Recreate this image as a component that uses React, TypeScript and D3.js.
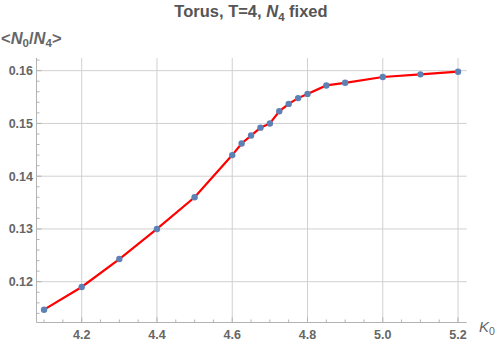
import React, { useEffect, useRef } from 'react';
import * as d3 from 'd3';

// K0 values and measured <N0/N4>
const k0 = [4.1, 4.2, 4.3, 4.4, 4.5, 4.6, 4.625, 4.65, 4.675, 4.7, 4.725, 4.75, 4.775, 4.8, 4.85, 4.9, 5.0, 5.1, 5.2];
const ratio = [0.1147, 0.119, 0.1243, 0.13, 0.136, 0.144, 0.1462, 0.1477, 0.1492, 0.15, 0.1523, 0.1537, 0.1548, 0.1556, 0.1572, 0.1577, 0.1588, 0.1593, 0.1598];

const xTicks = [4.2, 4.4, 4.6, 4.8, 5.0, 5.2];
const yTicks = [0.12, 0.13, 0.14, 0.15, 0.16];

const App: React.FC = () => {
  const svgRef = useRef<SVGSVGElement>(null);

  useEffect(() => {
    if (!svgRef.current) return;
    const svg = d3.select(svgRef.current);
    svg.selectAll('*').remove();

    const W = 500, H = 347;
    const left = 36.5, right = 466.7, top = 58, bottom = 322.5;
    const textColor = '#666';
    const font = '"Liberation Sans", Arial, sans-serif';

    svg.attr('width', W).attr('height', H);

    const x = d3.scaleLinear().domain([4.0799, 5.223]).range([left, right]);
    const y = d3.scaleLinear().domain([0.11227, 0.1624]).range([bottom, top]);

    // grid
    const grid = svg.append('g').attr('stroke', '#d0d0d0').attr('stroke-width', 1);
    xTicks.forEach(t => {
      grid.append('line').attr('x1', x(t)).attr('x2', x(t)).attr('y1', top).attr('y2', bottom);
    });
    yTicks.forEach(t => {
      grid.append('line').attr('x1', left).attr('x2', right).attr('y1', y(t)).attr('y2', y(t));
    });

    // axes
    const ax = svg.append('g').attr('stroke', '#b3b3b3').attr('stroke-width', 1);
    ax.append('line').attr('x1', left).attr('x2', right).attr('y1', bottom).attr('y2', bottom);
    ax.append('line').attr('x1', left).attr('x2', left).attr('y1', top).attr('y2', bottom);

    // minor ticks (inward)
    d3.range(0, 23).map(i => 4.1 + i * 0.05).forEach(t => {
      const major = xTicks.some(m => Math.abs(m - t) < 1e-6);
      ax.append('line').attr('x1', x(t)).attr('x2', x(t)).attr('y1', bottom).attr('y2', bottom - (major ? 5 : 3));
    });
    d3.range(0, 25).map(i => 0.114 + i * 0.002).forEach(t => {
      const major = yTicks.some(m => Math.abs(m - t) < 1e-6);
      ax.append('line').attr('x1', left).attr('x2', left + (major ? 5 : 3)).attr('y1', y(t)).attr('y2', y(t));
    });

    // tick labels
    svg.append('g')
      .selectAll('text')
      .data(xTicks)
      .join('text')
      .attr('x', d => x(d))
      .attr('y', 339)
      .attr('text-anchor', 'middle')
      .attr('font-family', font)
      .attr('font-weight', 'bold')
      .attr('font-size', 12.5)
      .attr('fill', textColor)
      .text(d => d.toFixed(1));

    svg.append('g')
      .selectAll('text')
      .data(yTicks)
      .join('text')
      .attr('x', 33)
      .attr('y', d => y(d) + 4.5)
      .attr('text-anchor', 'end')
      .attr('font-family', font)
      .attr('font-weight', 'bold')
      .attr('font-size', 12.5)
      .attr('fill', textColor)
      .text(d => d.toFixed(2));

    // line + points
    const data = k0.map((k, i) => ({ k, r: ratio[i] }));
    const line = d3.line<{ k: number; r: number }>()
      .x(d => x(d.k))
      .y(d => y(d.r));

    svg.append('path')
      .datum(data)
      .attr('fill', 'none')
      .attr('stroke', '#ff0000')
      .attr('stroke-width', 2.2)
      .attr('d', line);

    svg.append('g')
      .selectAll('circle')
      .data(data)
      .join('circle')
      .attr('cx', d => x(d.k))
      .attr('cy', d => y(d.r))
      .attr('r', 3.2)
      .attr('fill', '#5e81b5');

    // title
    const title = svg.append('text')
      .attr('x', 251)
      .attr('y', 17)
      .attr('text-anchor', 'middle')
      .attr('font-family', font)
      .attr('font-weight', 'bold')
      .attr('font-size', 16.5)
      .attr('fill', '#555');
    title.append('tspan').text('Torus, T=4, ');
    title.append('tspan').attr('font-style', 'italic').text('N');
    title.append('tspan').attr('font-size', 11.5).attr('dy', 4).text('4');
    title.append('tspan').attr('dy', -4).text(' fixed');

    // y axis label
    const yl = svg.append('text')
      .attr('x', 1)
      .attr('y', 44)
      .attr('font-family', font)
      .attr('font-weight', 'bold')
      .attr('font-size', 16.5)
      .attr('fill', textColor);
    yl.append('tspan').text('<');
    yl.append('tspan').attr('font-style', 'italic').text('N');
    yl.append('tspan').attr('font-size', 11.5).attr('dy', 3).text('0');
    yl.append('tspan').attr('dy', -3).text('/');
    yl.append('tspan').attr('font-style', 'italic').text('N');
    yl.append('tspan').attr('font-size', 11.5).attr('dy', 3).text('4');
    yl.append('tspan').attr('dy', -3).text('>');

    // x axis label
    const xl = svg.append('text')
      .attr('x', 479)
      .attr('y', 332)
      .attr('font-family', font)
      .attr('font-size', 15)
      .attr('fill', textColor);
    xl.append('tspan').attr('font-style', 'italic').text('K');
    xl.append('tspan').attr('font-size', 10.5).attr('dy', 3).text('0');
  }, []);

  return <svg ref={svgRef} style={{ position: 'absolute', left: 0, top: 0 }} />;
};

export default App;
